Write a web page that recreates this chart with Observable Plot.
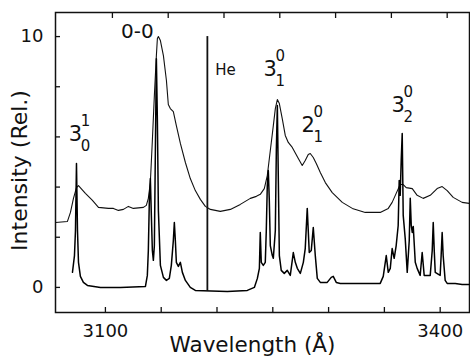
<!DOCTYPE html>
<html>
<head>
<meta charset="utf-8">
<script src="https://cdn.jsdelivr.net/npm/d3@7"></script>
<script src="https://cdn.jsdelivr.net/npm/@observablehq/plot@0.6"></script>
<style>
  html, body { margin: 0; padding: 0; background: #fff; }
</style>
</head>
<body>
<div id="chart"></div>
<script>
// Broad (low-resolution) spectrum: [wavelength Å, intensity]
const broadSpectrum = [
  [3049.0,2.59],[3059.7,2.63],[3062.4,2.99],[3065.1,3.55],[3067.8,3.98],[3069.6,4.06],
  [3075.8,3.75],[3082.1,3.47],[3087.5,3.19],[3096.4,3.15],[3100.9,3.15],[3105.4,3.07],
  [3109.9,3.11],[3114.3,3.23],[3118.8,3.15],[3127.8,3.19],[3130.4,3.27],[3132.2,3.55],
  [3134.0,4.18],[3135.8,5.86],[3137.6,7.65],[3139.4,9.24],[3140.3,9.92],[3141.2,10.0],
  [3143.0,9.84],[3145.7,9.24],[3148.4,8.25],[3150.1,7.29],[3151.9,7.13],[3154.6,7.01],
  [3157.3,6.45],[3160.9,5.74],[3165.4,4.98],[3169.8,4.34],[3174.3,3.86],[3178.8,3.51],
  [3183.3,3.23],[3187.8,3.11],[3196.7,3.03],[3205.7,3.11],[3214.6,3.31],[3223.6,3.55],
  [3229.0,3.63],[3232.5,3.71],[3236.1,3.94],[3238.8,4.46],[3241.5,5.46],[3244.2,6.45],
  [3246.0,7.13],[3247.8,7.49],[3249.6,7.33],[3252.2,6.73],[3254.9,6.06],[3257.6,5.78],
  [3261.2,5.58],[3266.6,5.14],[3270.1,4.86],[3272.8,5.06],[3275.5,5.30],[3277.3,5.34],
  [3280.0,5.18],[3282.7,4.94],[3286.3,4.58],[3290.8,4.18],[3297.0,3.78],[3306.0,3.39],
  [3315.0,3.15],[3326.6,2.99],[3340.0,2.99],[3347.2,3.15],[3350.7,3.39],[3354.3,3.75],
  [3357.9,4.10],[3360.6,4.10],[3363.3,3.98],[3368.7,3.94],[3373.1,3.67],[3378.5,3.55],
  [3384.8,3.67],[3391.0,3.94],[3395.5,4.02],[3400.0,3.86],[3405.4,3.59],[3413.4,3.39],
  [3419.7,3.35]
];

// Sharp (high-resolution) spectrum: [wavelength Å, intensity]
const sharpSpectrum = [
  [3064.2,0.60],[3066.0,1.27],[3066.9,2.27],[3067.8,4.94],[3068.7,2.27],[3069.6,1.00],
  [3071.3,0.44],[3074.0,0.20],[3077.6,0.08],[3089.3,0.00],[3107.2,0.00],[3129.6,0.04],
  [3131.3,0.48],[3132.2,1.47],[3133.1,3.47],[3134.0,4.34],[3134.9,2.87],[3135.8,1.47],
  [3136.7,1.08],[3137.6,1.67],[3138.5,5.46],[3139.4,9.12],[3140.3,6.65],[3141.2,3.07],
  [3143.0,0.88],[3145.7,0.40],[3148.4,0.28],[3151.0,0.36],[3152.8,0.88],[3154.6,1.87],
  [3155.5,2.59],[3156.4,1.87],[3157.3,1.00],[3159.1,0.84],[3160.9,1.00],[3162.7,0.60],
  [3165.4,0.28],[3169.8,0.00],[3174.3,-0.12],[3203.0,-0.16],[3220.9,-0.12],[3227.2,0.00],
  [3229.9,0.36],[3231.7,0.76],[3232.5,2.19],[3233.4,1.00],[3235.2,0.88],[3237.0,1.00],
  [3237.9,2.27],[3238.8,4.06],[3239.7,4.66],[3240.6,3.47],[3241.5,1.67],[3243.3,1.27],
  [3244.2,1.16],[3246.0,2.27],[3246.9,5.46],[3247.8,7.25],[3248.7,4.26],[3249.6,1.27],
  [3251.3,0.68],[3254.0,0.56],[3256.7,0.68],[3259.4,0.48],[3262.1,1.39],[3263.9,1.00],
  [3265.7,0.76],[3268.4,0.56],[3271.1,1.00],[3272.8,1.55],[3274.6,3.15],[3275.5,2.27],
  [3276.4,1.39],[3278.2,1.47],[3280.0,2.39],[3281.8,1.27],[3283.6,0.36],[3286.3,0.20],
  [3292.5,0.20],[3296.1,0.40],[3297.9,0.44],[3300.6,0.20],[3304.2,0.16],[3340.0,0.16],
  [3342.7,0.44],[3345.4,1.27],[3347.2,0.60],[3349.0,0.76],[3350.7,1.55],[3352.5,1.16],
  [3354.3,1.67],[3356.1,2.47],[3357.0,4.26],[3357.9,3.67],[3358.8,5.06],[3359.7,6.14],
  [3360.6,2.87],[3362.4,1.95],[3364.2,0.60],[3366.0,1.87],[3366.9,3.55],[3367.8,2.47],
  [3368.7,2.19],[3369.6,2.43],[3371.4,1.00],[3373.1,0.76],[3375.8,0.48],[3377.6,1.39],
  [3379.4,0.48],[3384.8,0.48],[3386.6,1.47],[3387.5,2.59],[3388.4,1.47],[3389.3,0.60],
  [3393.7,0.48],[3394.6,1.27],[3395.5,2.19],[3396.4,1.27],[3398.2,0.28],[3400.0,0.16],
  [3407.2,0.16],[3413.4,0.12],[3419.7,0.12]
];

// Helium reference line
const heLine = [{wl: 3185.1, lo: -0.16, hi: 10.0}];

// Band labels
const bandLabels = [
  {wl: 3066.9, i: 6.10, base: "3", sup: "1", sub: "0"},
  {wl: 3241.5, i: 8.69, base: "3", sup: "0", sub: "1"},
  {wl: 3275.5, i: 6.45, base: "2", sup: "0", sub: "1"},
  {wl: 3356.1, i: 7.25, base: "3", sup: "0", sub: "2"}
];
const plainLabels = [
  {wl: 3122.4, i: 10.20, text: "0-0"}
];
const heLabel = [{wl: 3192.2, i: 8.65, text: "He"}];

// Axes
const xTicks = [3100, 3150, 3200, 3250, 3300, 3350, 3400];
const xLabeled = [3100, 3400];
const yTicks = [0, 2, 4, 6, 8, 10];
const yLabeled = [0, 10];
const xTitle = "Wavelength (Å)";
const yTitle = "Intensity (Rel.)";

const font = "DejaVu Sans";

const chart = Plot.plot({
  width: 470,
  height: 359,
  marginLeft: 55,
  marginRight: 1,
  marginTop: 12,
  marginBottom: 47,
  x: {domain: [3049, 3420]},
  y: {domain: [-1.0, 10.96]},
  style: {fontFamily: font, fontSize: "18px", background: "#fff", color: "#111"},
  marks: [
    Plot.frame({stroke: "#111", strokeWidth: 1.5}),
    Plot.axisX(xTicks, {anchor: "bottom", tickSize: -5, tickPadding: 17, strokeWidth: 1.3,
      tickFormat: d => xLabeled.includes(d) ? String(d) : "", dx: -7, label: null, fontSize: 18}),
    Plot.axisX(xTicks, {anchor: "top", tickSize: -5, strokeWidth: 1.3, tickFormat: () => "", label: null}),
    Plot.axisY(yTicks, {anchor: "left", tickSize: -5, tickPadding: 17, strokeWidth: 1.3,
      tickFormat: d => yLabeled.includes(d) ? String(d) : "", label: null, fontSize: 18}),
    Plot.text([xTitle], {frameAnchor: "bottom", textAnchor: "middle", lineAnchor: "middle",
      dy: 33, dx: -10, fontSize: 21.5, fill: "#111"}),
    Plot.text([yTitle], {frameAnchor: "left", textAnchor: "middle", lineAnchor: "middle",
      rotate: -90, dx: -36, dy: 8, fontSize: 22, fill: "#111"}),
    Plot.line(broadSpectrum, {x: d => d[0], y: d => d[1], stroke: "#111", strokeWidth: 1.1}),
    Plot.line(sharpSpectrum, {x: d => d[0], y: d => d[1], stroke: "#000", strokeWidth: 1.5}),
    Plot.ruleX(heLine, {x: "wl", y1: "lo", y2: "hi", stroke: "#111", strokeWidth: 1.8}),
    Plot.text(bandLabels, {x: "wl", y: "i", text: "base", fontSize: 21, fill: "#111"}),
    Plot.text(bandLabels, {x: "wl", y: "i", text: "sup", fontSize: 15, dx: 10, dy: -13, fill: "#111"}),
    Plot.text(bandLabels, {x: "wl", y: "i", text: "sub", fontSize: 15, dx: 10, dy: 12, fill: "#111"}),
    Plot.text(plainLabels, {x: "wl", y: "i", text: "text", fontSize: 20, fill: "#111"}),
    Plot.text(heLabel, {x: "wl", y: "i", text: "text", fontSize: 15, textAnchor: "start", fill: "#111"})
  ]
});
document.getElementById("chart").appendChild(chart);
</script>
</body>
</html>
